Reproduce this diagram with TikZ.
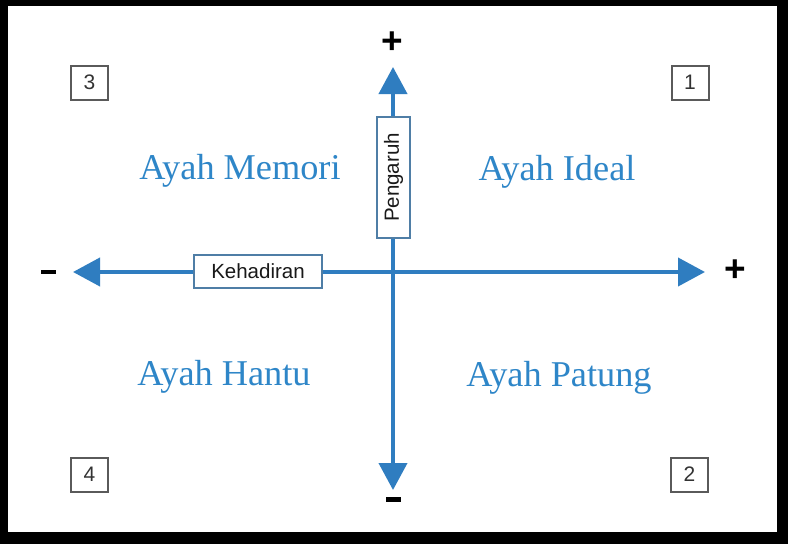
\documentclass[tikz,border=0pt]{standalone}
\usepackage{fontspec}
\setmainfont{Liberation Serif}
\setsansfont{Liberation Sans}
\usetikzlibrary{arrows.meta}
\definecolor{axisblue}{HTML}{2F7DC0}
\definecolor{labelblue}{HTML}{2E86C8}
\definecolor{boxgray}{HTML}{5A5A5A}
\tikzset{
  axis/.style={line width=4pt, draw=axisblue, {Triangle[length=27pt,width=28pt]}-{Triangle[length=27pt,width=28pt]}},
  axislabel/.style={draw=axisblue!60!gray, line width=1.2pt, fill=white, inner sep=0pt,
    font=\sffamily\fontsize{20.5}{22}\selectfont, text=black!90},
  numbox/.style={draw=boxgray, line width=2pt, fill=white, minimum width=37pt, minimum height=34pt,
    inner sep=0pt, font=\sffamily\fontsize{21}{22}\selectfont, text=black!80},
  quad/.style={font=\rmfamily\fontsize{36.3}{40}\selectfont, text=labelblue, inner sep=0pt, anchor=base},
  sign/.style={font=\sffamily\bfseries\fontsize{37}{38}\selectfont, inner sep=0pt}
}
\begin{document}
\begin{tikzpicture}[x=1pt,y=-1pt]
\useasboundingbox (0,0) rectangle (788,544);
\fill[black] (0,0) rectangle (788,544);
\fill[white] (8,6) rectangle (777,532);
% axes
\coordinate (top) at (393,67);
\coordinate (bot) at (393,490);
\coordinate (lft) at (73,272);
\coordinate (rgt) at (705,272);
\draw[axis] (lft) -- (rgt);
\draw[axis] (bot) -- (top);
% axis labels
\node[axislabel, rotate=90, minimum width=121pt, minimum height=33pt] (peng) at (393.5,177.5) {Pengaruh};
\node[axislabel, minimum width=128pt, minimum height=33pt] (keh) at (258,271.5) {Kehadiran};
% signs
\node[sign] (ptop) at (392,43) {+};
\node[sign] (pright) at (735,271) {+};
\node[sign, fill=black, minimum width=15pt, minimum height=4.5pt] (mleft) at (48.5,272) {};
\node[sign, fill=black, minimum width=15pt, minimum height=4.5pt] (mbot) at (393.5,499.5) {};
% number boxes
\node[numbox] (n3) at (89.5,82.5) {3};
\node[numbox] (n1) at (690,82.5) {1};
\node[numbox] (n4) at (89.5,474.5) {4};
\node[numbox] (n2) at (689.5,474.5) {2};
% quadrant labels
\node[quad] (q3) at (240,179) {Ayah Memori};
\node[quad] (q1) at (557,180) {Ayah Ideal};
\node[quad] (q4) at (224,385) {Ayah Hantu};
\node[quad] (q2) at (559,386) {Ayah Patung};
\end{tikzpicture}
\end{document}
